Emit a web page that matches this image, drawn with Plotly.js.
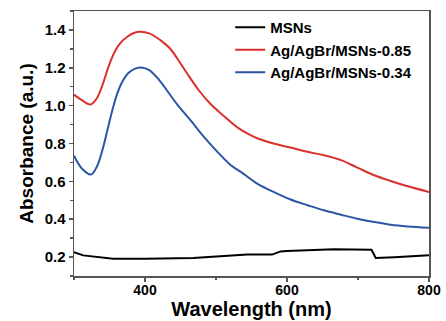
<!DOCTYPE html>
<html>
<head>
<meta charset="utf-8">
<script src="https://cdn.plot.ly/plotly-3.0.1.min.js"></script>
<style>html,body{margin:0;padding:0;background:#fff;}#chart{width:446px;height:321px;}</style>
</head>
<body>
<div id="chart"></div>
<script>
// Wavelength (nm) and absorbance (a.u.)
const msnsX = [300, 313, 355, 400, 468, 500, 544, 579, 591, 600, 666, 719, 725, 751, 800];
const msnsY = [0.226, 0.209, 0.191, 0.191, 0.195, 0.204, 0.213, 0.213, 0.230, 0.232, 0.241, 0.239, 0.195, 0.199, 0.209];

const ag85X = [300, 311, 323, 332, 340, 347, 354, 363, 375, 391, 406, 422, 435, 454, 476, 492, 511, 530, 548, 558, 581, 605, 629, 652, 676, 699, 723, 746, 770, 800];
const ag85Y = [1.058, 1.029, 1.006, 1.038, 1.108, 1.188, 1.258, 1.320, 1.364, 1.390, 1.382, 1.345, 1.303, 1.200, 1.080, 1.010, 0.945, 0.885, 0.845, 0.828, 0.800, 0.779, 0.756, 0.738, 0.712, 0.673, 0.632, 0.602, 0.574, 0.544];

const ag34X = [300, 311, 324, 332, 340, 347, 354, 361, 368, 377, 387, 395, 406, 420, 445, 464, 483, 502, 521, 535, 558, 581, 605, 629, 652, 676, 699, 723, 746, 770, 800];
const ag34Y = [0.735, 0.668, 0.636, 0.676, 0.765, 0.870, 0.976, 1.065, 1.126, 1.174, 1.197, 1.202, 1.188, 1.135, 1.008, 0.923, 0.835, 0.756, 0.685, 0.650, 0.588, 0.544, 0.504, 0.474, 0.447, 0.424, 0.403, 0.385, 0.371, 0.362, 0.355];

const names = ["MSNs", "Ag/AgBr/MSNs-0.85", "Ag/AgBr/MSNs-0.34"];
const colors = ["#000000", "#d9312b", "#2b56a3"];

const font = "Liberation Sans, Arial, sans-serif";
const traces = [
  {x: msnsX, y: msnsY, name: names[0], line: {color: colors[0], width: 2, shape: "linear"}},
  {x: ag85X, y: ag85Y, name: names[1], line: {color: colors[1], width: 2, shape: "spline", smoothing: 1}},
  {x: ag34X, y: ag34Y, name: names[2], line: {color: colors[2], width: 2, shape: "spline", smoothing: 1}}
].map(t => Object.assign({type: "scatter", mode: "lines"}, t));

const axisCommon = {
  showline: true, mirror: true, linecolor: "#555", linewidth: 1.5,
  ticks: "outside", tickcolor: "#555", tickwidth: 1.5, ticklen: 4,
  showgrid: false, zeroline: false
};

const layout = {
  width: 446, height: 321,
  margin: {l: 74, r: 17, t: 11, b: 45},
  paper_bgcolor: "#fff", plot_bgcolor: "#fff",
  showlegend: true,
  legend: {x: 0.44, y: 1.0, xanchor: "left", yanchor: "top", bgcolor: "rgba(0,0,0,0)",
           font: {family: font, size: 15, color: "#000", weight: "bold"}, tracegroupgap: 0},
  xaxis: Object.assign({}, axisCommon, {
    range: [300, 800], tickvals: [400, 600, 800],
    tickfont: {family: font, size: 14, color: "#000", weight: "bold"},
    ticklabelstandoff: -3,
    minor: {tickvals: [300, 500, 700], ticks: "outside", ticklen: 2.5, tickcolor: "#555", tickwidth: 1.5},
    title: {text: "Wavelength (nm)", font: {family: font, size: 20, color: "#000", weight: "bold"}, standoff: 2}
  }),
  yaxis: Object.assign({}, axisCommon, {
    range: [0.1, 1.5], tickvals: [0.2, 0.4, 0.6, 0.8, 1.0, 1.2, 1.4], tickformat: ".1f",
    tickfont: {family: font, size: 15, color: "#000", weight: "bold"},
    minor: {tickvals: [0.1, 0.3, 0.5, 0.7, 0.9, 1.1, 1.3, 1.5], ticks: "outside", ticklen: 2.5, tickcolor: "#555", tickwidth: 1.5},
    title: {text: "Absorbance (a.u.)", font: {family: font, size: 19, color: "#000", weight: "bold"}, standoff: 6}
  })
};

Plotly.newPlot("chart", traces, layout, {displayModeBar: false, staticPlot: true});
</script>
</body>
</html>
